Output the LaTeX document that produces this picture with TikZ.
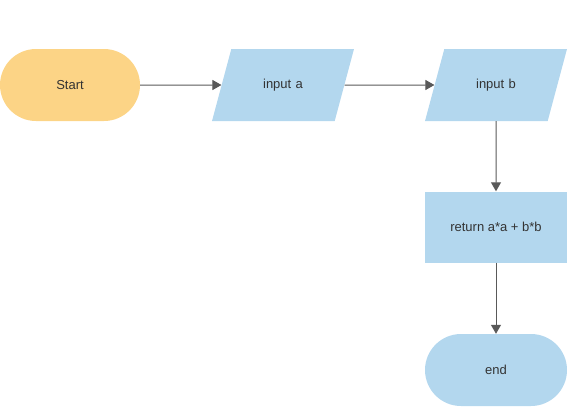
\documentclass[tikz,border=0pt]{standalone}
\usepackage{fontspec}
\setmainfont{Liberation Sans}
\usepackage{tikz}
\usetikzlibrary{arrows.meta}
\usetikzlibrary{positioning}
\usetikzlibrary{shapes.geometric}
\definecolor{termorange}{HTML}{FCD486}
\definecolor{boxblue}{HTML}{B3D7EE}
\definecolor{linegray}{HTML}{595959}
\definecolor{textgray}{HTML}{333333}
\tikzstyle{every node}+=[inner sep=0pt, text=textgray, font=\fontsize{13}{15}\selectfont]
\tikzstyle{terminal} = [rectangle, fill=termorange, rounded corners=36pt, minimum width=140pt, minimum height=72pt]
\tikzstyle{io} = [trapezium, trapezium left angle=75, trapezium right angle=105, fill=boxblue, text width=80pt, align=center, text height=9pt, text depth=3pt, inner xsep=11.7pt, inner ysep=30pt]
\tikzstyle{process} = [rectangle, fill=boxblue, minimum width=142pt, minimum height=71pt]
\tikzstyle{line} = [draw=linegray, line width=1pt, -{Triangle[length=9pt,width=10pt]}]

\begin{document}
\begin{tikzpicture}[x=1pt, y=1pt, node distance=213pt]
            \useasboundingbox (0,0) rectangle (577,-415);
            % Place nodes
            \node [terminal] (start) at (70,-85) {Start};
            \node [io, right of=start] (ina) {input a};
            \node [io, right of=ina] (inb) {input b};
            \node [process, below of=inb, node distance=142pt] (ret) {return a*a + b*b};
            \node [terminal, fill=boxblue, minimum width=142pt, below of=ret, node distance=143pt] (stop) {end};
            % Draw edges
            \path [line] (start) -- (ina);
            \path [line] (ina) -- (inb);
            \path [line] (inb) -- (ret);
            \path [line] (ret) -- (stop);
          \end{tikzpicture}
\end{document}
